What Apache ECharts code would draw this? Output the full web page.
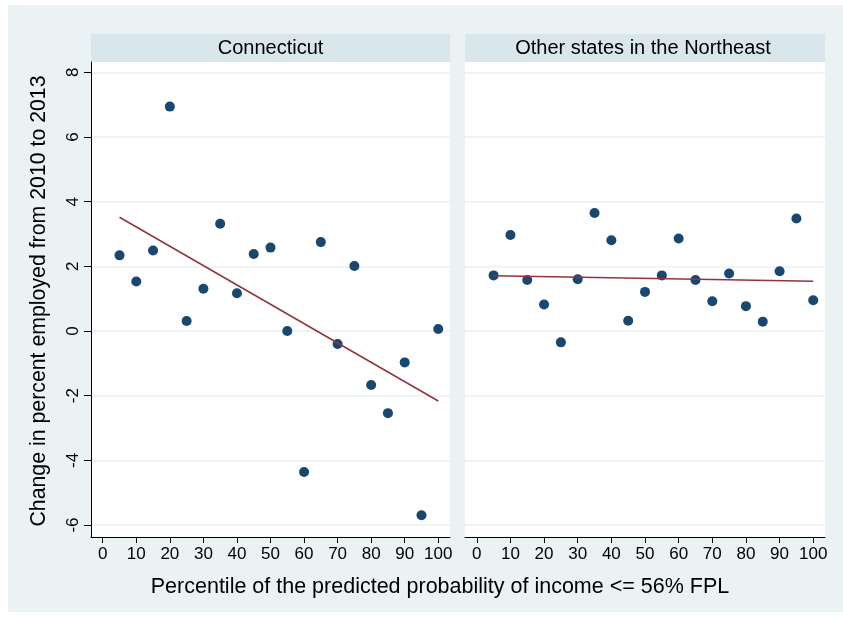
<!DOCTYPE html>
<html>
<head>
<meta charset="utf-8">
<script src="https://cdn.jsdelivr.net/npm/echarts@6/dist/echarts.min.js"></script>
<style>
  html, body { margin: 0; padding: 0; background: #ffffff; }
  #bg { position: absolute; left: 8px; top: 5px; width: 835px; height: 607px; background: #eaf2f3; }
  #chart { position: absolute; left: 0; top: 0; width: 843px; height: 618px; }
</style>
</head>
<body>
<div id="bg"></div>
<div id="chart"></div>
<script>
// ---- data ----
const percentiles = [5, 10, 15, 20, 25, 30, 35, 40, 45, 50, 55, 60, 65, 70, 75, 80, 85, 90, 95, 100];
const connecticut = [2.34, 1.53, 2.49, 6.94, 0.31, 1.31, 3.32, 1.17, 2.38, 2.58, 0.00, -4.36, 2.75, -0.40, 2.01, -1.67, -2.54, -0.97, -5.70, 0.06];
const otherNortheast = [1.72, 2.97, 1.58, 0.82, -0.35, 1.60, 3.65, 2.81, 0.32, 1.21, 1.72, 2.86, 1.58, 0.92, 1.78, 0.77, 0.29, 1.85, 3.48, 0.95];
const panelTitles = ['Connecticut', 'Other states in the Northeast'];
const xTicks = [0, 10, 20, 30, 40, 50, 60, 70, 80, 90, 100];
const yTicks = [-6, -4, -2, 0, 2, 4, 6, 8];
const xTitle = 'Percentile of the predicted probability of income <= 56% FPL';
const yTitle = 'Change in percent employed from 2010 to 2013';

// linear fit (ordinary least squares) over the plotted points
function linearFit(xs, ys) {
  const n = xs.length;
  let mx = 0, my = 0;
  for (let i = 0; i < n; i++) { mx += xs[i]; my += ys[i]; }
  mx /= n; my /= n;
  let sxy = 0, sxx = 0;
  for (let i = 0; i < n; i++) { sxy += (xs[i] - mx) * (ys[i] - my); sxx += (xs[i] - mx) * (xs[i] - mx); }
  const b = sxy / sxx, a = my - b * mx;
  const x0 = Math.min.apply(null, xs), x1 = Math.max.apply(null, xs);
  return [[x0, a + b * x0], [x1, a + b * x1]];
}
const pts = (ys) => percentiles.map((x, i) => [x, ys[i]]);

const FONT = "'Liberation Sans', Arial, sans-serif";
const NAVY = '#1a476f';
const MAROON = '#90353b';
const GRIDC = '#eaf2f3';

const chart = echarts.init(document.getElementById('chart'), null, { renderer: 'canvas' });

function xAxisDef(gi) {
  return {
    type: 'value', gridIndex: gi, min: -3.5, max: 103.5,
    axisLine: { show: true, onZero: false, lineStyle: { color: '#000', width: 1 } },
    axisTick: { show: true, inside: false, length: 6, customValues: xTicks, lineStyle: { color: '#000', width: 1 } },
    axisLabel: { show: true, customValues: xTicks, margin: 9, fontSize: 17, color: '#000', fontFamily: FONT },
    splitLine: { show: false }
  };
}
function yAxisDef(gi, showAxis) {
  return {
    type: 'value', gridIndex: gi, min: -6.37, max: 8.32,
    axisLine: { show: showAxis, onZero: false, lineStyle: { color: '#000', width: 1 } },
    axisTick: { show: showAxis, inside: false, length: 7, customValues: yTicks, lineStyle: { color: '#000', width: 1 } },
    axisLabel: { show: showAxis, customValues: yTicks, rotate: 90, margin: 9, fontSize: 17, color: '#000', fontFamily: FONT },
    splitLine: { show: true, lineStyle: { color: GRIDC, width: 1.5 } }
  };
}

const HEADFONT = "20px " + FONT;

const option = {
  animation: false,
  backgroundColor: 'transparent',
  grid: [
    { left: 91, right: 393, top: 62, bottom: 81, show: true, backgroundColor: '#ffffff', borderWidth: 0 },
    { left: 465, right: 18, top: 62, bottom: 81, show: true, backgroundColor: '#ffffff', borderWidth: 0 }
  ],
  xAxis: [xAxisDef(0), xAxisDef(1)],
  yAxis: [yAxisDef(0, true), yAxisDef(1, false)],
  graphic: [
    { type: 'rect', shape: { x: 91, y: 34, width: 359, height: 28 }, style: { fill: '#d9e6eb' } },
    { type: 'rect', shape: { x: 465, y: 34, width: 360, height: 28 }, style: { fill: '#d9e6eb' } },
    { type: 'text', x: 270.5, y: 48, style: { text: panelTitles[0], fill: '#000', font: HEADFONT, textAlign: 'center', textVerticalAlign: 'middle' } },
    { type: 'text', x: 643, y: 48, style: { text: panelTitles[1], fill: '#000', font: HEADFONT, textAlign: 'center', textVerticalAlign: 'middle' } },
    { type: 'text', x: 440, y: 587, style: { text: xTitle, fill: '#000', font: "21.5px " + FONT, textAlign: 'center', textVerticalAlign: 'middle' } },
    { type: 'text', x: 39, y: 301, rotation: Math.PI / 2, style: { text: yTitle, fill: '#000', font: "21.3px " + FONT, textAlign: 'center', textVerticalAlign: 'middle' } }
  ],
  series: [
    { type: 'scatter', xAxisIndex: 0, yAxisIndex: 0, data: pts(connecticut), symbol: 'circle', symbolSize: 10, itemStyle: { color: NAVY, opacity: 1 }, z: 3 },
    { type: 'line', xAxisIndex: 0, yAxisIndex: 0, data: linearFit(percentiles, connecticut), showSymbol: false, symbol: 'none', lineStyle: { color: MAROON, width: 1.5 }, z: 4 },
    { type: 'scatter', xAxisIndex: 1, yAxisIndex: 1, data: pts(otherNortheast), symbol: 'circle', symbolSize: 10, itemStyle: { color: NAVY, opacity: 1 }, z: 3 },
    { type: 'line', xAxisIndex: 1, yAxisIndex: 1, data: linearFit(percentiles, otherNortheast), showSymbol: false, symbol: 'none', lineStyle: { color: MAROON, width: 1.5 }, z: 4 }
  ]
};
chart.setOption(option);
</script>
</body>
</html>
